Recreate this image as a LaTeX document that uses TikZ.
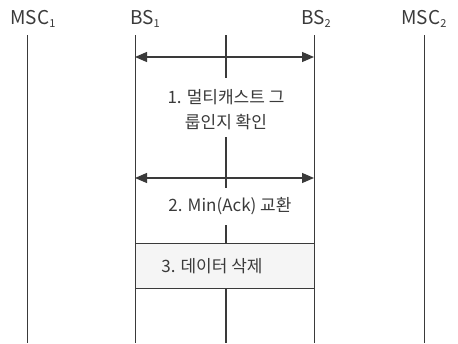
\documentclass[tikz,border=0pt]{standalone}
\usepackage{fontspec}
\setmainfont{Noto Sans CJK KR}
\usetikzlibrary{arrows.meta}
\definecolor{ink}{HTML}{3A3A3A}
\newcommand{\subidx}[1]{\raisebox{-0.35ex}{\fontsize{11}{12}\selectfont #1}}
\tikzset{
  head/.style={font=\fontsize{19}{21}\selectfont, text=ink, inner sep=0pt, anchor=base},
  life/.style={draw=ink, line width=0.8pt},
  center/.style={draw=ink, line width=2pt},
  msg/.style={draw=ink, line width=1.3pt, {Triangle[length=12pt,width=10pt]}-{Triangle[length=12pt,width=10pt]}},
  lbl/.style={font=\fontsize{17}{25}\selectfont, text=ink, inner sep=0pt, align=center},
  rule/.style={draw=ink, line width=0.8pt}
}
\begin{document}
\begin{tikzpicture}[x=1pt,y=-1pt]
\useasboundingbox (0,0) rectangle (458,343);
\fill[black!4] (135,243) rectangle (315,288);
% headers
\node[head] (msc1) at (33,24) {MSC\subidx{1}};
\node[head] (bs1) at (145,24) {BS\subidx{1}};
\node[head] (bs2) at (316,24) {BS\subidx{2}};
\node[head] (msc2) at (424,24) {MSC\subidx{2}};
% lifeline coordinates
\coordinate (m1t) at (27,35); \coordinate (m1b) at (27,343);
\coordinate (b1t) at (135,35); \coordinate (b1b) at (135,343);
\coordinate (b2t) at (314,35); \coordinate (b2b) at (314,343);
\coordinate (m2t) at (424,35); \coordinate (m2b) at (424,343);
\draw[life] (m1t) -- (m1b);
\draw[life] (b1t) -- (b1b);
\draw[life] (b2t) -- (b2b);
\draw[life] (m2t) -- (m2b);
% center segments
\coordinate (c1a) at (226,35); \coordinate (c1b) at (226,78);
\coordinate (c2a) at (226,137); \coordinate (c2b) at (226,188);
\coordinate (c3a) at (226,225); \coordinate (c3b) at (226,243);
\coordinate (c4a) at (226,288); \coordinate (c4b) at (226,343);
\draw[center] (c1a) -- (c1b);
\draw[center] (c2a) -- (c2b);
\draw[center] (c3a) -- (c3b);
\draw[center] (c4a) -- (c4b);
% arrows
\coordinate (a1l) at (135,57); \coordinate (a1r) at (314,57);
\coordinate (a2l) at (135,178); \coordinate (a2r) at (314,178);
\draw[msg] (a1l) -- (a1r);
\draw[msg] (a2l) -- (a2r);
% labels
\node[lbl] (t1) at (226,110) {1. 멀티캐스트 그\\룹인지 확인};
\node[lbl] (t2) at (230,206) {2. Min(Ack) 교환};
\node[lbl] (t3) at (212,266) {3. 데이터 삭제};
% rules
\coordinate (r1l) at (135,243); \coordinate (r1r) at (314,243);
\coordinate (r2l) at (135,288); \coordinate (r2r) at (314,288);
\draw[rule] (r1l) -- (r1r);
\draw[rule] (r2l) -- (r2r);
\end{tikzpicture}
\end{document}
